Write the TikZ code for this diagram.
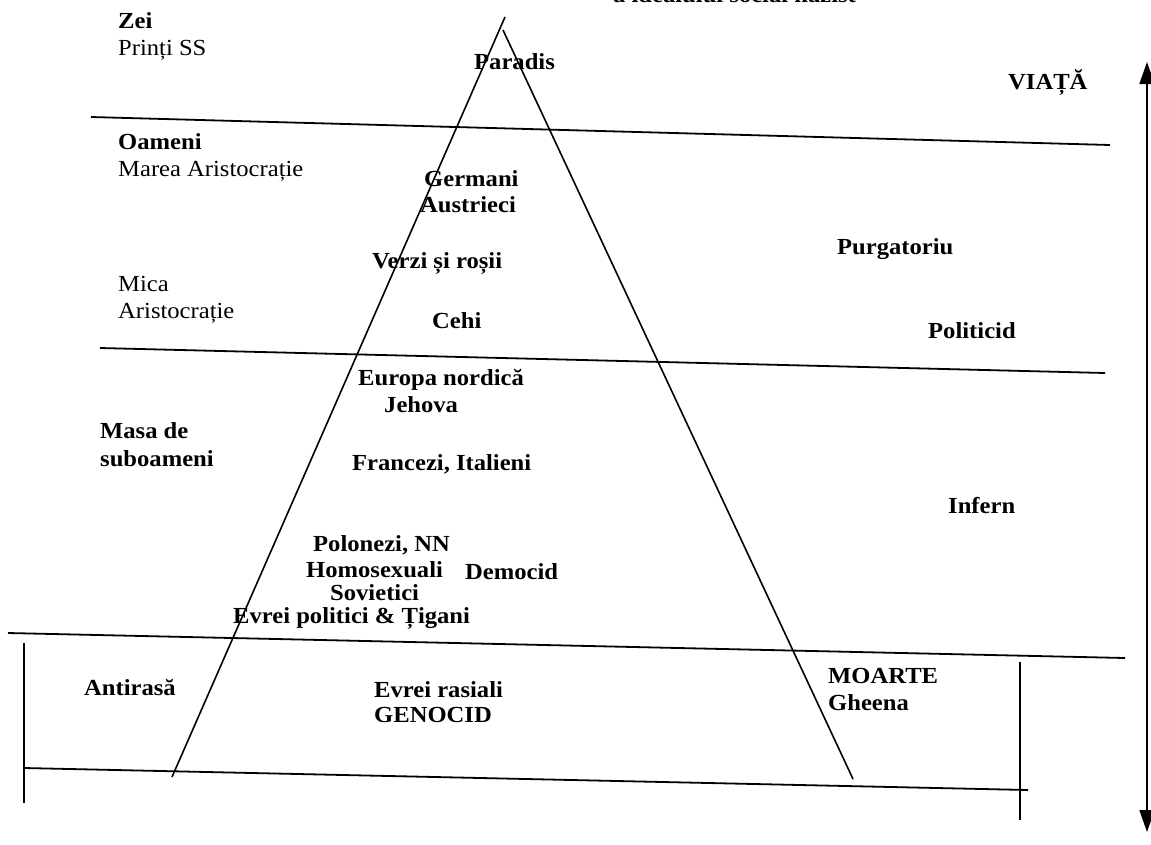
\documentclass[tikz,border=0pt]{standalone}
\usepackage{fontspec}
\setmainfont{Liberation Serif}[FakeStretch=1.07]
\usetikzlibrary{arrows.meta}
\begin{document}
\begin{tikzpicture}[x=1pt,y=-1pt,
  lbl/.style={anchor=west,inner sep=0pt,font=\fontsize{23}{27}\selectfont\bfseries},
  lblr/.style={anchor=west,inner sep=0pt,font=\fontsize{23}{27}\selectfont},
  rule/.style={line width=1.8pt},
  side/.style={line width=1.6pt},
  axis/.style={line width=1.6pt,{Triangle[width=15pt,length=22pt]}-{Triangle[width=15pt,length=22pt]}}]
\useasboundingbox (0,0) rectangle (1151,844);
% partly cut title
\begin{scope}
\clip (0,0) rectangle (1151,844);
\node[lbl,anchor=base west] (title) at (613,2) {a idealului social nazist};
\end{scope}
% horizontal rules
\coordinate (l1a) at (91,117);  \coordinate (l1b) at (1110,145);
\coordinate (l2a) at (100,348); \coordinate (l2b) at (1105,373);
\coordinate (l3a) at (8,633);   \coordinate (l3b) at (1125,658);
\coordinate (l4a) at (24,768);  \coordinate (l4b) at (1028,790);
\draw[rule] (l1a) -- (l1b);
\draw[rule] (l2a) -- (l2b);
\draw[rule] (l3a) -- (l3b);
\draw[rule] (l4a) -- (l4b);
% vertical ticks
\coordinate (vla) at (24,643);  \coordinate (vlb) at (24,803);
\coordinate (vra) at (1020,662); \coordinate (vrb) at (1020,820);
\draw[side] (vla) -- (vlb);
\draw[side] (vra) -- (vrb);
% pyramid sides
\coordinate (pl1) at (505,17);  \coordinate (pl2) at (172,777);
\coordinate (pr1) at (503,30);  \coordinate (pr2) at (853,779);
\draw[side] (pl1) -- (pl2);
\draw[side] (pr1) -- (pr2);
% life/death axis
\coordinate (ax1) at (1147,62); \coordinate (ax2) at (1147,832);
\draw[axis] (ax1) -- (ax2);
% left labels
\node[lbl,anchor=base west]  (zei)   at (118,28)  {Zei};
\node[lblr,anchor=base west] (print) at (118,55)  {Prinți SS};
\node[lbl,anchor=base west]  (oam)   at (118,149) {Oameni};
\node[lblr,anchor=base west] (marea) at (118,176) {Marea Aristocrație};
\node[lblr,anchor=base west] (mica)  at (118,291) {Mica};
\node[lblr,anchor=base west] (aris)  at (118,318) {Aristocrație};
\node[lbl,anchor=base west]  (masa)  at (100,438) {Masa de};
\node[lbl,anchor=base west]  (subo)  at (100,466) {suboameni};
\node[lbl] (anti) at (84,687)  {Antirasă};
% pyramid labels
\node[lbl] (parad) at (474,62)  {Paradis};
\node[lbl] (germ)  at (424,179) {Germani};
\node[lbl] (aust)  at (420,205) {Austrieci};
\node[lbl] (verzi) at (372,263) {Verzi și roșii};
\node[lbl] (cehi)  at (432,321) {Cehi};
\node[lbl] (euro)  at (358,380) {Europa nordică};
\node[lbl] (jeh)   at (384,405) {Jehova};
\node[lbl] (franc) at (352,464) {Francezi, Italieni};
\node[lbl] (polo)  at (313,545) {Polonezi, NN};
\node[lbl] (homo)  at (306,570) {Homosexuali};
\node[lbl] (demo)  at (465,572) {Democid};
\node[lbl] (sov)   at (330,593) {Sovietici};
\node[lbl] (evpol) at (233,618) {Evrei politici \& Țigani};
\node[lbl] (evras) at (374,690) {Evrei rasiali};
\node[lbl] (geno)  at (374,715) {GENOCID};
% right labels
\node[lbl] (viata) at (1008,82)  {VIAȚĂ};
\node[lbl] (purg)  at (837,249)  {Purgatoriu};
\node[lbl] (polit) at (928,331)  {Politicid};
\node[lbl] (inf)   at (948,505)  {Infern};
\node[lbl] (moar)  at (828,676)  {MOARTE};
\node[lbl] (ghee)  at (828,703)  {Gheena};
\end{tikzpicture}
\end{document}
